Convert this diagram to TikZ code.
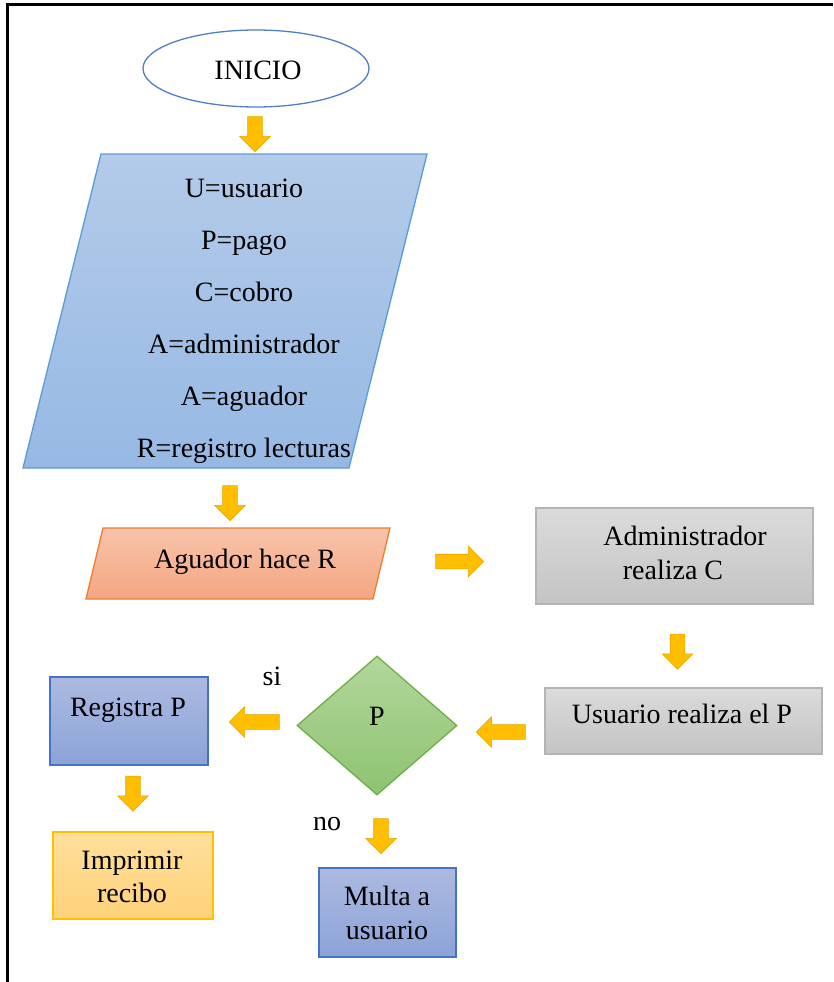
\documentclass[tikz,border=0pt]{standalone}
\usepackage{fontspec}
\setmainfont{Liberation Serif}
\usetikzlibrary{shapes.geometric,shapes.arrows}

\definecolor{ovalEdge}{RGB}{84,125,200}
\definecolor{dataTop}{RGB}{180,203,233}
\definecolor{dataBot}{RGB}{150,185,228}
\definecolor{dataEdge}{RGB}{91,155,213}
\definecolor{orTop}{RGB}{248,196,170}
\definecolor{orBot}{RGB}{244,166,130}
\definecolor{orEdge}{RGB}{237,125,49}
\definecolor{grTop}{RGB}{219,219,219}
\definecolor{grBot}{RGB}{196,196,196}
\definecolor{grEdge}{RGB}{180,180,180}
\definecolor{gnTop}{RGB}{178,215,156}
\definecolor{gnBot}{RGB}{142,195,112}
\definecolor{gnEdge}{RGB}{112,173,71}
\definecolor{bpTop}{RGB}{172,186,225}
\definecolor{bpBot}{RGB}{140,163,216}
\definecolor{bpEdge}{RGB}{68,114,196}
\definecolor{yeTop}{RGB}{255,223,156}
\definecolor{yeBot}{RGB}{255,210,122}
\definecolor{yeEdge}{RGB}{255,192,0}
\definecolor{arFill}{RGB}{255,190,0}
\definecolor{arEdge}{RGB}{232,168,0}

\begin{document}
\begin{tikzpicture}[x=1pt,y=-1pt,
  lbl/.style={anchor=base,inner sep=0,font=\fontsize{28}{34}\selectfont},
  blk/.style={inner sep=0,line width=1.3pt},
  grbox/.style={blk,draw=grEdge,top color=grTop,bottom color=grBot},
  bpbox/.style={blk,draw=bpEdge,top color=bpTop,bottom color=bpBot},
  yebox/.style={blk,draw=yeEdge,top color=yeTop,bottom color=yeBot},
  fat/.style={single arrow,draw=arEdge,line width=0.6pt,fill=arFill,
    inner sep=0,inner ysep=7pt,minimum width=30pt,
    single arrow head extend=8pt,single arrow tip angle=90,minimum height=#1},
  fat/.default=35pt]

\useasboundingbox (0,0) rectangle (833,982);

% page frame (top and left edges)
\draw[line width=3pt] (7,982) -- (7,5) -- (833,5);

% start oval
\node[ellipse,draw=ovalEdge,line width=1.3pt,fill=white,inner sep=0,
  minimum width=226pt,minimum height=77pt] (inicio) at (256,68.5) {};
\node[lbl] (tinicio) at (258,79) {INICIO};

% data parallelogram
\path[blk,draw=dataEdge,top color=dataTop,bottom color=dataBot]
  (101,154) -- (427,154) -- (349,468) -- (23,468) -- cycle;
\node[lbl] (d1) at (244,197) {U=usuario};
\node[lbl] (d2) at (244,249) {P=pago};
\node[lbl] (d3) at (244,301) {C=cobro};
\node[lbl] (d4) at (244,353) {A=administrador};
\node[lbl] (d5) at (244,405) {A=aguador};
\node[lbl] (d6) at (244,457) {R=registro lecturas};

% reading step
\path[blk,draw=orEdge,top color=orTop,bottom color=orBot]
  (103,528) -- (390,528) -- (373,599) -- (86,599) -- cycle;
\node[lbl] (tagua) at (245,568) {Aguador hace R};

% administrator box
\node[grbox,minimum width=277pt,minimum height=96pt] (adm) at (674.5,556) {};
\node[lbl] (tadm1) at (685,545) {Administrador};
\node[lbl] (tadm2) at (673,579) {realiza C};

% user payment box
\node[grbox,minimum width=277pt,minimum height=66pt] (usr) at (683.5,721) {};
\node[lbl] (tusr) at (682,723) {Usuario realiza el P};

% decision
\node[diamond,blk,draw=gnEdge,top color=gnTop,bottom color=gnBot,
  minimum width=160pt,minimum height=139pt] (dec) at (377,725.5) {};
\node[lbl] (tdec) at (377,725) {P};
\node[lbl] (tsi) at (272,685) {si};
\node[lbl] (tno) at (327,830) {no};

% outcome boxes
\node[bpbox,minimum width=158pt,minimum height=88pt] (reg) at (129,721) {};
\node[lbl] (treg) at (128,716) {Registra P};
\node[yebox,minimum width=160pt,minimum height=87pt] (imp) at (133,875.5) {};
\node[lbl] (timp1) at (132,869) {Imprimir};
\node[lbl] (timp2) at (132,902) {recibo};
\node[bpbox,minimum width=137pt,minimum height=89pt] (mul) at (387.5,912.5) {};
\node[lbl] (tmul1) at (387,905) {Multa a};
\node[lbl] (tmul2) at (387,939) {usuario};

% block arrows
\node[fat,rotate=-90] (a1) at (255,130.5) {};
\node[fat,rotate=-90] (a2) at (230,499.5) {};
\node[fat=48pt] (a3) at (456,561.5) {};
\node[fat,rotate=-90] (a4) at (677.5,648) {};
\node[fat=49pt,rotate=180] (a5) at (504.5,732) {};
\node[fat=50pt,rotate=180] (a6) at (258,722) {};
\node[fat,rotate=-90] (a7) at (133,790) {};
\node[fat,rotate=-90] (a8) at (381,832.5) {};
\end{tikzpicture}
\end{document}
